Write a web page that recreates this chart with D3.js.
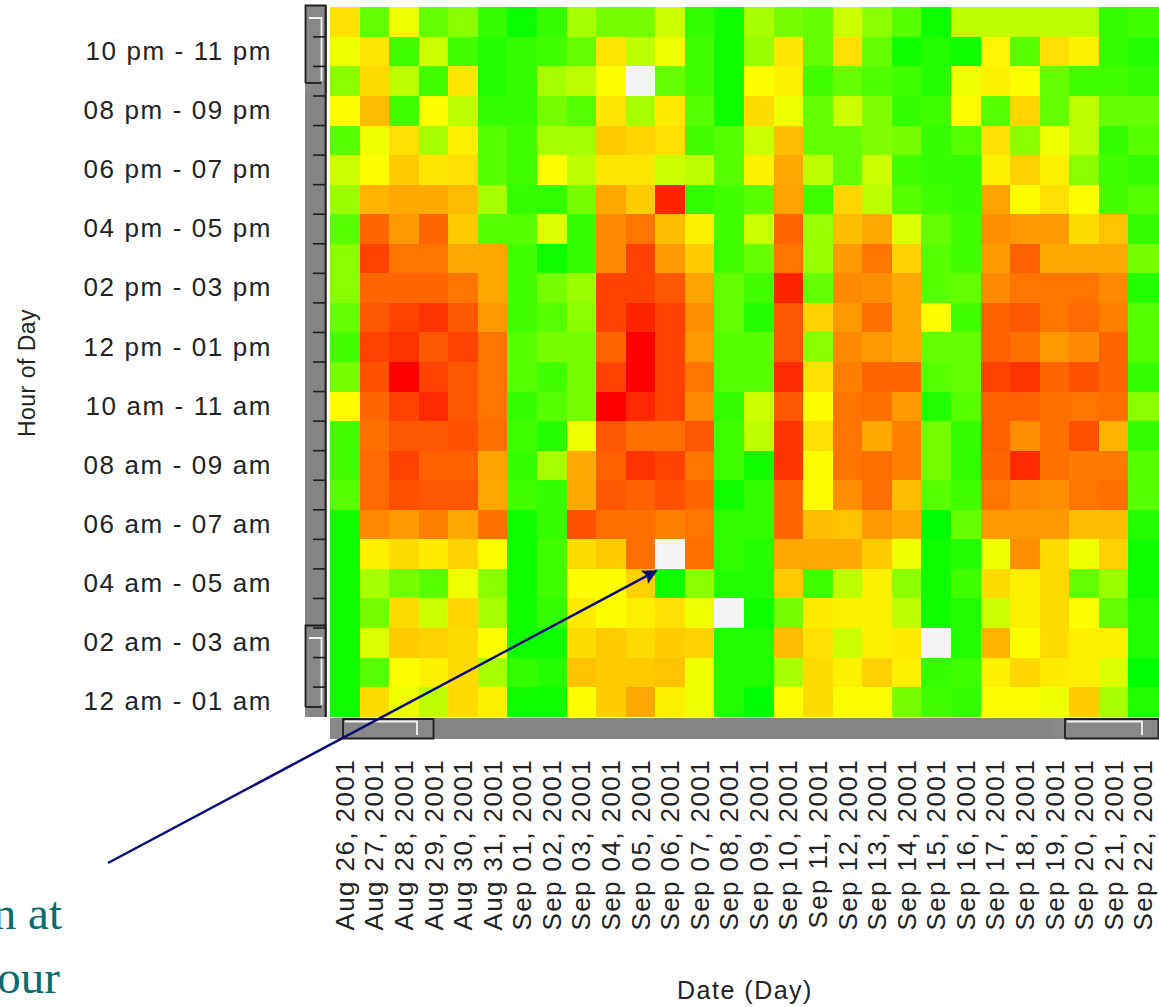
<!DOCTYPE html>
<html>
<head>
<meta charset="utf-8">
<script src="https://cdn.jsdelivr.net/npm/d3@7"></script>
<style>
    body { margin: 0; background: #fff; overflow: hidden; }
    svg { display: block; }
    .axis text, text.axis { font-family: "Liberation Sans", Arial, sans-serif; fill: #222; }
</style>
</head>
<body>
<svg id="chart" width="1159" height="1007"></svg>
<script>
// days along the bottom
const days = ["Aug 26, 2001", "Aug 27, 2001", "Aug 28, 2001", "Aug 29, 2001", "Aug 30, 2001",
    "Aug 31, 2001", "Sep 01, 2001", "Sep 02, 2001", "Sep 03, 2001", "Sep 04, 2001", "Sep 05, 2001",
    "Sep 06, 2001", "Sep 07, 2001", "Sep 08, 2001", "Sep 09, 2001", "Sep 10, 2001", "Sep 11, 2001",
    "Sep 12, 2001", "Sep 13, 2001", "Sep 14, 2001", "Sep 15, 2001", "Sep 16, 2001", "Sep 17, 2001",
    "Sep 18, 2001", "Sep 19, 2001", "Sep 20, 2001", "Sep 21, 2001", "Sep 22, 2001"];

// hour labels, index = hour of day
const hourLabels = ["12 am - 01 am", "01 am - 02 am", "02 am - 03 am", "03 am - 04 am", "04 am - 05 am",
    "05 am - 06 am", "06 am - 07 am", "07 am - 08 am", "08 am - 09 am", "09 am - 10 am", "10 am - 11 am",
    "11 am - 12 pm", "12 pm - 01 pm", "01 pm - 02 pm", "02 pm - 03 pm", "03 pm - 04 pm", "04 pm - 05 pm",
    "05 pm - 06 pm", "06 pm - 07 pm", "07 pm - 08 pm", "08 pm - 09 pm", "09 pm - 10 pm", "10 pm - 11 pm",
    "11 pm - 12 am"];

// rows from top (hour 23) down to hour 0, one value per day, 0 = idle .. 100 = peak, null = no data
const hours = [23, 22, 21, 20, 19, 18, 17, 16, 15, 14, 13, 12, 11, 10, 9, 8, 7, 6, 5, 4, 3, 2, 1, 0];
const load = [
    [56, 20, 47, 20, 27, 10, 2, 10, 33, 23, 23, 40, 10, 3, 33, 23, 20, 40, 27, 17, 3, 37, 37, 37, 37, 37, 10, 13],
    [47, 55, 13, 40, 13, 7, 10, 13, 20, 55, 37, 47, 13, 3, 30, 55, 20, 56, 20, 3, 7, 3, 52, 17, 56, 53, 10, 7],
    [27, 57, 37, 13, 55, 7, 10, 33, 37, 50, null, 20, 13, 3, 50, 53, 13, 20, 15, 13, 7, 47, 53, 50, 20, 13, 13, 10],
    [50, 63, 13, 50, 37, 10, 10, 23, 17, 55, 33, 54, 17, 3, 57, 47, 20, 40, 25, 10, 13, 50, 17, 58, 20, 37, 20, 20],
    [17, 47, 56, 33, 53, 17, 13, 33, 33, 60, 58, 56, 13, 17, 40, 63, 20, 20, 25, 23, 10, 17, 56, 27, 47, 37, 10, 17],
    [40, 50, 60, 55, 56, 17, 13, 50, 37, 55, 55, 40, 37, 17, 53, 67, 37, 20, 40, 13, 10, 10, 53, 59, 53, 27, 13, 10],
    [30, 65, 67, 67, 63, 33, 10, 10, 23, 67, 60, 93, 10, 13, 17, 68, 13, 58, 37, 17, 13, 10, 68, 50, 56, 50, 13, 17],
    [17, 80, 70, 80, 60, 17, 17, 43, 10, 73, 77, 63, 53, 13, 40, 80, 30, 63, 67, 43, 20, 13, 72, 70, 70, 57, 62, 10],
    [27, 87, 77, 77, 67, 67, 13, 3, 10, 73, 87, 70, 60, 13, 20, 77, 30, 70, 77, 59, 17, 13, 70, 81, 67, 67, 67, 23],
    [27, 80, 80, 80, 77, 67, 13, 23, 30, 87, 87, 83, 68, 20, 13, 93, 20, 73, 72, 67, 17, 20, 73, 77, 77, 77, 73, 7],
    [20, 83, 87, 90, 83, 70, 13, 17, 27, 87, 93, 87, 72, 20, 7, 83, 59, 70, 78, 67, 50, 13, 81, 83, 77, 79, 75, 17],
    [13, 87, 90, 83, 87, 77, 17, 23, 23, 80, 100, 87, 70, 17, 17, 83, 27, 73, 70, 67, 20, 20, 81, 78, 70, 73, 80, 17],
    [23, 84, 100, 87, 83, 77, 17, 13, 23, 87, 100, 87, 77, 17, 17, 92, 56, 75, 80, 80, 17, 20, 87, 90, 80, 84, 80, 10],
    [50, 80, 87, 92, 83, 77, 10, 17, 23, 100, 92, 87, 73, 10, 40, 83, 50, 77, 78, 70, 7, 17, 81, 81, 78, 77, 78, 27],
    [13, 78, 83, 83, 84, 78, 13, 7, 47, 83, 78, 78, 83, 13, 37, 90, 56, 77, 67, 75, 23, 10, 81, 72, 78, 84, 65, 10],
    [13, 79, 87, 81, 81, 68, 10, 33, 67, 81, 90, 87, 77, 13, 3, 90, 50, 77, 78, 75, 23, 10, 80, 92, 78, 76, 76, 17],
    [17, 79, 84, 83, 83, 67, 13, 10, 67, 83, 81, 84, 80, 3, 10, 80, 50, 72, 78, 63, 17, 13, 77, 73, 72, 77, 78, 17],
    [3, 73, 70, 75, 67, 78, 3, 10, 84, 78, 78, 75, 77, 10, 10, 80, 63, 62, 70, 67, 0, 20, 70, 70, 70, 63, 63, 7],
    [3, 53, 57, 54, 59, 50, 3, 13, 57, 60, 78, null, 78, 10, 7, 67, 67, 67, 60, 47, 3, 7, 47, 72, 57, 47, 59, 3],
    [3, 33, 23, 17, 47, 27, 3, 13, 50, 50, 59, 3, 27, 7, 7, 60, 13, 37, 53, 27, 3, 13, 57, 53, 57, 20, 30, 3],
    [3, 23, 57, 40, 58, 33, 3, 10, 54, 50, 53, 56, 47, null, 3, 23, 54, 53, 53, 37, 3, 7, 40, 53, 57, 50, 20, 7],
    [3, 43, 60, 59, 57, 50, 3, 3, 57, 60, 57, 60, 59, 7, 7, 63, 56, 40, 53, 54, null, 7, 65, 50, 57, 53, 53, 7],
    [3, 17, 50, 53, 57, 33, 10, 7, 62, 60, 60, 62, 47, 7, 7, 33, 57, 53, 59, 53, 10, 13, 53, 58, 54, 53, 43, 0],
    [3, 57, 47, 37, 57, 53, 3, 3, 50, 60, 67, 53, 47, 7, 0, 50, 57, 50, 50, 23, 13, 10, 50, 50, 47, 60, 33, 7]
];

// the cut-off slide note at the lower left
const noteLines = ["n at", "our"];

(function (d3) {
    const svg = d3.select('#chart');
    const plot = {left: 330, right: 1158, top: 7.3, bottom: 716.7};

    const x = d3.scaleBand().domain(days).range([plot.left, plot.right]).padding(0);
    const y = d3.scaleBand().domain(hours).range([plot.top, plot.bottom]).padding(0);
    const color = d3.scaleLinear()
        .domain([0, 50, 100])
        .range(['#00ff00', '#ffff00', '#ff0000']);

    // flatten into cells
    const cells = [];
    hours.forEach((h, r) => {
        days.forEach((d, c) => {
            cells.push({day: d, hour: h, value: load[r][c]});
        });
    });

    svg.append('g')
        .attr('shape-rendering', 'crispEdges')
        .selectAll('rect')
        .data(cells).enter()
        .append('rect')
        .attr('x', d => x(d.day))
        .attr('y', d => y(d.hour))
        .attr('width', x.bandwidth() + 0.5)
        .attr('height', y.bandwidth() + 0.5)
        .attr('fill', d => d.value === null ? '#f4f4f4' : color(d.value));

    // vertical scroll strip on the left
    const strip = svg.append('g');
    strip.append('rect')
        .attr('x', 305).attr('y', 5).attr('width', 22).attr('height', 712)
        .attr('fill', '#858585');
    strip.append('line')
        .attr('x1', 325.5).attr('x2', 325.5).attr('y1', 5).attr('y2', 717)
        .attr('stroke', '#1e1e1e').attr('stroke-width', 1.8);

    function thumbV(y0, y1) {
        const g = strip.append('g').attr('fill', 'none');
        g.append('rect').attr('x', 305).attr('y', y0).attr('width', 21).attr('height', y1 - y0)
            .attr('fill', '#888');
        g.append('path')
            .attr('d', `M305.5,${y1 - 10}V${y0 + 0.5}H325.5V${y1}`)
            .attr('stroke', '#1e1e1e').attr('stroke-width', 1.8);
        g.append('path')
            .attr('d', `M305.5,${y1 - 10}H321.5`)
            .attr('stroke', '#1e1e1e').attr('stroke-width', 1.8);
        g.append('path')
            .attr('d', `M309,${y0 + 13}H321.5V${y1 - 12}`)
            .attr('stroke', '#f2f2f2').attr('stroke-width', 1.8);
    }
    thumbV(5, 93);
    thumbV(625, 717);

    // one tick per row edge
    strip.selectAll('.rowtick')
        .data(hours.slice(1)).enter()
        .append('line')
        .attr('class', 'rowtick')
        .attr('x1', 313).attr('x2', 325)
        .attr('y1', d => y(d)).attr('y2', d => y(d))
        .attr('stroke', '#1e1e1e').attr('stroke-width', 1.6);

    // horizontal scroll strip under the grid
    const hs = svg.append('g');
    hs.append('rect')
        .attr('x', 330).attr('y', 718).attr('width', 829).attr('height', 21)
        .attr('fill', '#858585');
    function thumbH(x0, x1) {
        const g = hs.append('g').attr('fill', 'none');
        g.append('rect').attr('x', x0).attr('y', 718).attr('width', x1 - x0).attr('height', 21)
            .attr('fill', '#888');
        g.append('path')
            .attr('d', `M${x0 + 13},738.5H${x1 - 0.5}V719H${x0 + 13}V738.5`)
            .attr('stroke', '#1e1e1e').attr('stroke-width', 1.8);
        g.append('path')
            .attr('d', `M${x0 + 15},721.5H${x1 - 17}V735`)
            .attr('stroke', '#f2f2f2').attr('stroke-width', 1.8);
    }
    thumbH(330, 434);
    thumbH(1052, 1159);

    // y axis labels, every second hour
    const yAxis = d3.axisLeft(y)
        .tickValues(hours.filter(h => h % 2 === 0))
        .tickFormat(h => hourLabels[h])
        .tickSize(0)
        .tickPadding(0);
    const yG = svg.append('g')
        .attr('class', 'axis')
        .attr('transform', 'translate(272,0)')
        .call(yAxis);
    yG.select('.domain').remove();
    yG.selectAll('text')
        .style('font-size', '26px')
        .style('letter-spacing', '1.6px');

    // x axis labels, rotated
    const xAxis = d3.axisBottom(x).tickSize(0).tickPadding(0);
    const xG = svg.append('g')
        .attr('class', 'axis')
        .attr('transform', 'translate(0,759)')
        .call(xAxis);
    xG.select('.domain').remove();
    xG.selectAll('text')
        .attr('x', 0).attr('y', 0).attr('dy', '0.35em')
        .attr('transform', 'rotate(-90)')
        .style('text-anchor', 'end')
        .style('font-size', '26px')
        .style('letter-spacing', '1.4px');

    // axis titles
    svg.append('text')
        .attr('class', 'axis')
        .attr('transform', 'translate(35,373) rotate(-90)')
        .attr('text-anchor', 'middle')
        .style('font-size', '23px')
        .style('letter-spacing', '0.5px')
        .text('Hour of Day');
    svg.append('text')
        .attr('class', 'axis')
        .attr('x', 745).attr('y', 999)
        .attr('text-anchor', 'middle')
        .style('font-size', '25px')
        .style('letter-spacing', '1.5px')
        .text('Date (Day)');

    // annotation arrow pointing at the Sep 06, 4 am cell
    svg.append('defs').append('marker')
        .attr('id', 'head')
        .attr('viewBox', '0 0 10 10')
        .attr('refX', 9).attr('refY', 5)
        .attr('markerWidth', 7).attr('markerHeight', 6)
        .attr('markerUnits', 'strokeWidth')
        .attr('orient', 'auto')
        .append('path')
        .attr('d', 'M0,0L10,5L0,10L2,5Z')
        .attr('fill', '#0a0a78');
    svg.append('line')
        .attr('x1', 108).attr('y1', 863)
        .attr('x2', x('Sep 06, 2001') + 1).attr('y2', y(4) + 2)
        .attr('stroke', '#0a0a78').attr('stroke-width', 2.5)
        .attr('marker-end', 'url(#head)');

    svg.append('g')
        .selectAll('text')
        .data(noteLines).enter()
        .append('text')
        .attr('x', (d, i) => i === 0 ? 62 : 60)
        .attr('y', (d, i) => 929 + i * 64)
        .attr('text-anchor', 'end')
        .style('font-family', '"Liberation Serif", "Times New Roman", serif')
        .style('font-size', '47px')
        .attr('fill', '#0b6b6b')
        .text(d => d);
})(d3);
</script>
</body>
</html>
